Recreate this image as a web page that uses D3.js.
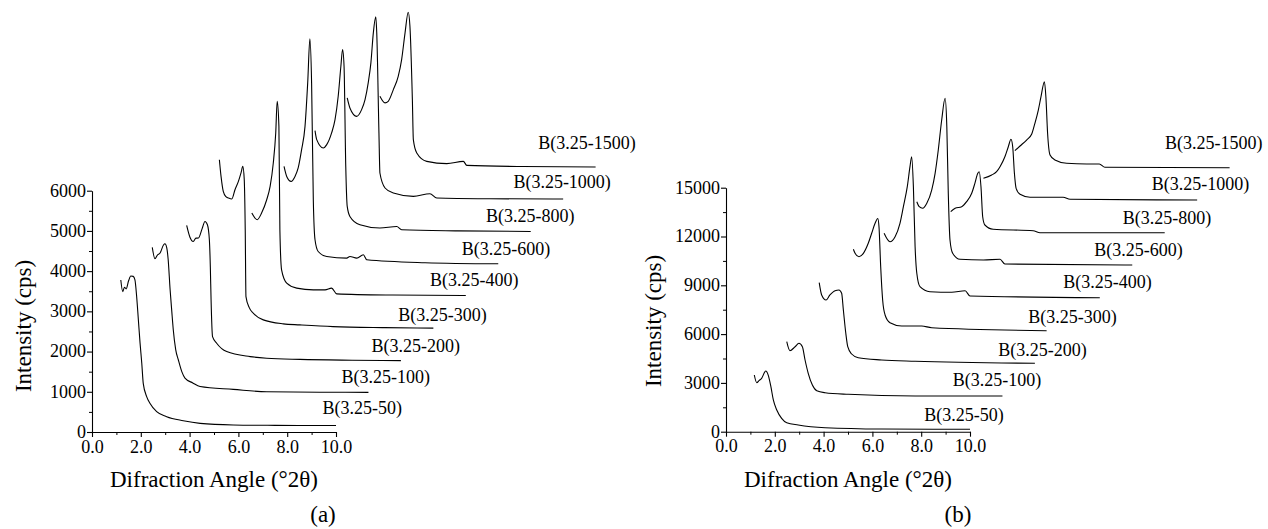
<!DOCTYPE html>
<html>
<head>
<meta charset="utf-8">
<script src="https://cdn.jsdelivr.net/npm/d3@7/dist/d3.min.js"></script>
<style>
  body { margin: 0; background: #fff; }
  #fig text { font-family: 'Liberation Serif', 'Times New Roman', serif !important; }
</style>
</head>
<body>
<svg id="fig" width="1268" height="529"></svg>
<script>
// ---- sample names (calcination series) ----
const sampleNames = ["B(3.25-50)", "B(3.25-100)", "B(3.25-200)", "B(3.25-300)", "B(3.25-400)",
                     "B(3.25-600)", "B(3.25-800)", "B(3.25-1000)", "B(3.25-1500)"];

// ---- panel (a): low-angle XRD patterns, [2θ (deg), intensity (cps)] ----
const a50 = [[1.18,3780],[1.26,3490],[1.33,3600],[1.40,3560],[1.50,3760],[1.59,3880],[1.69,3870],[1.76,3780],
  [1.83,3370],[1.90,2790],[1.97,2210],[2.04,1710],[2.10,1210],[2.24,880],[2.38,710],[2.65,505],[3.06,380],
  [3.74,280],[4.43,215],[5.79,175],[7.5,165],[10.0,160]];
const a100 = [[1.14,3790],[1.25,3510],[1.35,3600],[1.46,3650],[1.60,3850],[1.66,3880],[1.73,3790],[1.79,3500],
  [1.87,2750],[1.94,2200],[2.00,1750],[2.10,1250],[2.21,990],[2.35,700],[2.48,540],[2.80,420],[3.10,330],
  [4.46,260],[5.83,200],[8.0,190],[10.0,185]];
const a200 = [[1.22,3536],[1.35,3250],[1.49,3137],[1.60,3220],[1.70,3222],[1.85,3450],[1.97,3635],[2.07,3553],
  [2.15,3180],[2.19,2500],[2.22,1686],[2.28,772],[2.45,608],[2.86,399],[3.82,275],[4.50,235],[5.86,205],
  [8.0,185],[10.0,175]];
const a300 = [[1.23,4371],[1.30,3950],[1.39,3582],[1.50,3450],[1.60,3418],[1.74,3393],[1.87,3624],[2.01,3831],
  [2.12,4050],[2.19,4204],[2.25,3873],[2.29,2629],[2.32,968],[2.45,700],[2.62,555],[3.03,388],[3.85,289],
  [4.53,264],[5.89,221],[8.0,195],[10.0,182]];
const a400 = [[1.23,2244],[1.36,2120],[1.45,2078],[1.63,2244],[1.84,2575],[1.98,2906],[2.11,3489],[2.21,4236],
  [2.27,5022],[2.34,4400],[2.38,1829],[2.45,833],[2.66,502],[3.07,377],[3.75,335],[4.23,335],[4.50,377],
  [4.71,235],[7.0,205],[10.0,193]];
const a600 = [[1.22,2604],[1.33,2355],[1.51,2231],[1.67,2355],[1.80,2565],[1.94,3020],[2.08,3600],[2.19,4681],
  [2.28,5776],[2.35,4681],[2.42,1775],[2.49,780],[2.62,488],[2.97,364],[3.79,324],[3.92,364],[4.20,324],
  [4.47,406],[4.61,282],[7.0,210],[10.0,182]];
const a800 = [[1.16,2693],[1.23,2469],[1.50,2262],[1.64,2345],[1.84,2636],[1.98,2967],[2.11,3547],[2.22,4294],
  [2.29,4710],[2.35,4294],[2.42,1804],[2.48,809],[2.59,560],[3.00,353],[3.82,271],[4.51,311],[4.71,229],
  [7.0,200],[10.0,186]];
const a1000 = [[1.15,2707],[1.26,2458],[1.54,2249],[1.74,2416],[1.88,2665],[2.01,3081],[2.12,3579],[2.22,4325],
  [2.32,4724],[2.36,4325],[2.45,1836],[2.49,840],[2.70,467],[3.04,342],[3.86,258],[4.54,325],[4.82,218],
  [7.0,200],[10.0,193]];
const a1500 = [[1.16,1947],[1.37,1783],[1.50,1823],[1.71,2114],[1.91,2445],[2.05,2861],[2.19,3525],[2.32,4038],
  [2.39,3690],[2.49,1865],[2.53,869],[2.67,538],[3.08,329],[3.90,272],[4.58,329],[4.72,229],[7.0,200],[10.0,189]];

// ---- panel (b): low-angle XRD patterns, [2θ (deg), intensity (cps)] ----
const b50 = [[1.16,3486],[1.26,3013],[1.36,3150],[1.46,3283],[1.63,3730],[1.73,3480],[1.84,2766],[1.94,1949],
  [2.08,1334],[2.28,824],[2.49,553],[2.96,412],[4.06,246],[6.38,166],[10.0,148]];
const b100 = [[1.16,3533],[1.29,2979],[1.50,3225],[1.66,3434],[1.80,3225],[1.91,2408],[2.04,1590],[2.21,871],
  [2.39,520],[2.73,398],[3.68,299],[6.42,195],[10.0,195]];
const b200 = [[1.16,5160],[1.26,4404],[1.44,4096],[1.60,4404],[1.81,4668],[1.97,4711],[2.08,4508],[2.15,3481],
  [2.25,2049],[2.33,1225],[2.49,777],[2.76,549],[3.72,408],[5.09,328],[10.0,205]];
const b300 = [[1.23,5213],[1.30,4967],[1.46,4758],[1.64,4967],[1.84,5582],[1.98,6197],[2.12,6811],[2.23,7106],
  [2.28,6602],[2.35,4143],[2.43,2096],[2.53,1174],[2.73,701],[3.21,498],[4.03,498],[4.44,393],[9.15,209]];
const b400 = [[1.16,4197],[1.40,3680],[1.61,3988],[1.81,4811],[1.95,5832],[2.11,7061],[2.22,8291],[2.29,8906],
  [2.36,7061],[2.43,3373],[2.50,1738],[2.63,914],[3.04,606],[3.93,570],[4.48,668],[4.68,342],[10.0,238]];
const b600 = [[1.17,4139],[1.27,3832],[1.41,3733],[1.58,4041],[1.78,4858],[1.92,5885],[2.05,7318],[2.19,9162],
  [2.33,10496],[2.40,8750],[2.46,4655],[2.53,1785],[2.64,967],[2.94,598],[3.90,555],[4.58,598],[4.78,309],
  [10.0,248]];
const b800 = [[1.23,1524],[1.41,1733],[1.68,1832],[1.88,2139],[2.09,2655],[2.22,3270],[2.34,3885],[2.40,3983],
  [2.47,3061],[2.54,1217],[2.63,707],[2.97,443],[4.61,356],[4.89,233],[10.0,233]];
const b1000 = [[1.24,1578],[1.58,1781],[1.78,1983],[1.92,2291],[2.12,2906],[2.26,3520],[2.37,3975],[2.44,3520],
  [2.51,1885],[2.58,963],[2.74,594],[3.15,410],[4.51,410],[4.79,287],[10.0,244]];
const b1500 = [[1.20,1274],[1.41,1563],[1.68,1932],[1.89,2301],[2.02,2959],[2.16,3776],[2.27,4594],[2.41,5516],
  [2.47,4594],[2.54,2344],[2.64,1010],[2.84,703],[3.32,500],[4.14,457],[4.66,457],[4.89,254],[10.0,229]];

// stacking step between successive patterns: [Δ2θ (deg), Δintensity (cps)]
const stackA = [1.33, 800];
const stackB = [1.33, 2000];

// axis ticks
const xMajor = [0, 2, 4, 6, 8, 10];
const xMinor = [1, 3, 5, 7, 9];
const yMajorA = [0, 1000, 2000, 3000, 4000, 5000, 6000];
const yMinorA = [500, 1500, 2500, 3500, 4500, 5500];
const yMajorB = [0, 3000, 6000, 9000, 12000, 15000];
const yMinorB = [1500, 4500, 7500, 10500, 13500];

// sample label anchors in axis units: [2θ, cps] (left edge, vertical middle)
const labelAtA = [[9.45,597],[10.23,1377],[11.46,2141],[12.55,2913],[13.85,3784],[15.15,4548],
                  [16.15,5377],[17.27,6231],[18.29,7187]];
const labelAtB = [[8.13,1070],[9.29,3178],[11.16,5065],[12.39,7070],[13.82,9221],[15.09,11170],
                  [16.26,13180],[17.45,15270],[17.99,17766]];

// ---------------- drawing ----------------
const FONT = "'Liberation Serif', 'Times New Roman', serif";
const svg = d3.select("#fig");

function serif(sel, size) {
  return sel.style("font-family", FONT).style("font-size", size + "px").attr("fill", "#000");
}

function drawPanel(opt) {
  const x = d3.scaleLinear().domain([0, 10]).range([opt.left, opt.right]);
  const y = d3.scaleLinear().domain([0, opt.yMax]).range([opt.bottom, opt.top]);
  const g = svg.append("g");

  // patterns, each shifted right and up by its stacking step
  const line = d3.line().curve(d3.curveMonotoneX);
  opt.series.forEach((pts, i) => {
    const dx = i * opt.stack[0], dy = i * opt.stack[1];
    g.append("path")
      .attr("d", line(pts.map(p => [x(p[0] + dx), y(p[1] + dy)])))
      .attr("fill", "none")
      .attr("stroke", "#000")
      .attr("stroke-width", 1.1)
      .attr("stroke-linejoin", "round");
  });

  // sample labels
  opt.labels.forEach((p, i) => {
    serif(g.append("text"), 18)
      .attr("x", x(p[0])).attr("y", y(p[1])).attr("dy", "0.35em")
      .text(sampleNames[i]);
  });

  // minor ticks
  g.append("g").attr("transform", `translate(0,${opt.bottom})`)
    .call(d3.axisBottom(x).tickValues(xMinor).tickSize(3).tickFormat(""))
    .call(s => s.select(".domain").remove());
  g.append("g").attr("transform", `translate(${opt.left},0)`)
    .call(d3.axisLeft(y).tickValues(opt.yMinor).tickSize(3).tickFormat(""))
    .call(s => s.select(".domain").remove());

  // major axes
  const ax = g.append("g").attr("transform", `translate(0,${opt.bottom})`)
    .call(d3.axisBottom(x).tickValues(xMajor).tickSize(5).tickSizeOuter(0).tickPadding(3)
      .tickFormat(d3.format(".1f")));
  const ay = g.append("g").attr("transform", `translate(${opt.left},0)`)
    .call(d3.axisLeft(y).tickValues(opt.yMajor).tickSize(5).tickSizeOuter(0).tickPadding(1)
      .tickFormat(d => String(d)));
  [ax, ay].forEach(a => {
    a.attr("font-family", null).attr("font-size", null);
    serif(a.selectAll("text"), 18);
    a.selectAll("line, .domain").attr("stroke", "#000").attr("stroke-width", 1.1);
  });
  ay.selectAll("text").attr("dy", "0.3em");
  g.selectAll("g.tick line").attr("stroke", "#000");

  // axis titles
  serif(svg.append("text"), 23)
    .attr("transform", `translate(${opt.yTitleX},${opt.yTitleY}) rotate(-90)`)
    .attr("text-anchor", "middle")
    .text("Intensity (cps)");
  serif(svg.append("text"), 23)
    .attr("x", (opt.left + opt.right) / 2).attr("y", 487)
    .attr("text-anchor", "middle")
    .text("Difraction Angle (°2θ)");
  serif(svg.append("text"), 23)
    .attr("x", opt.tagX).attr("y", 522)
    .attr("text-anchor", "middle")
    .text(opt.tag);
}

drawPanel({
  left: 92, right: 336, bottom: 432, top: 190.7, yMax: 6000,
  series: [a50, a100, a200, a300, a400, a600, a800, a1000, a1500],
  stack: stackA, labels: labelAtA, yMajor: yMajorA, yMinor: yMinorA,
  yTitleX: 31, yTitleY: 326, tag: "(a)", tagX: 323
});
drawPanel({
  left: 726, right: 970, bottom: 431.7, top: 187.7, yMax: 15000,
  series: [b50, b100, b200, b300, b400, b600, b800, b1000, b1500],
  stack: stackB, labels: labelAtB, yMajor: yMajorB, yMinor: yMinorB,
  yTitleX: 661, yTitleY: 321, tag: "(b)", tagX: 958
});
</script>
</body>
</html>
